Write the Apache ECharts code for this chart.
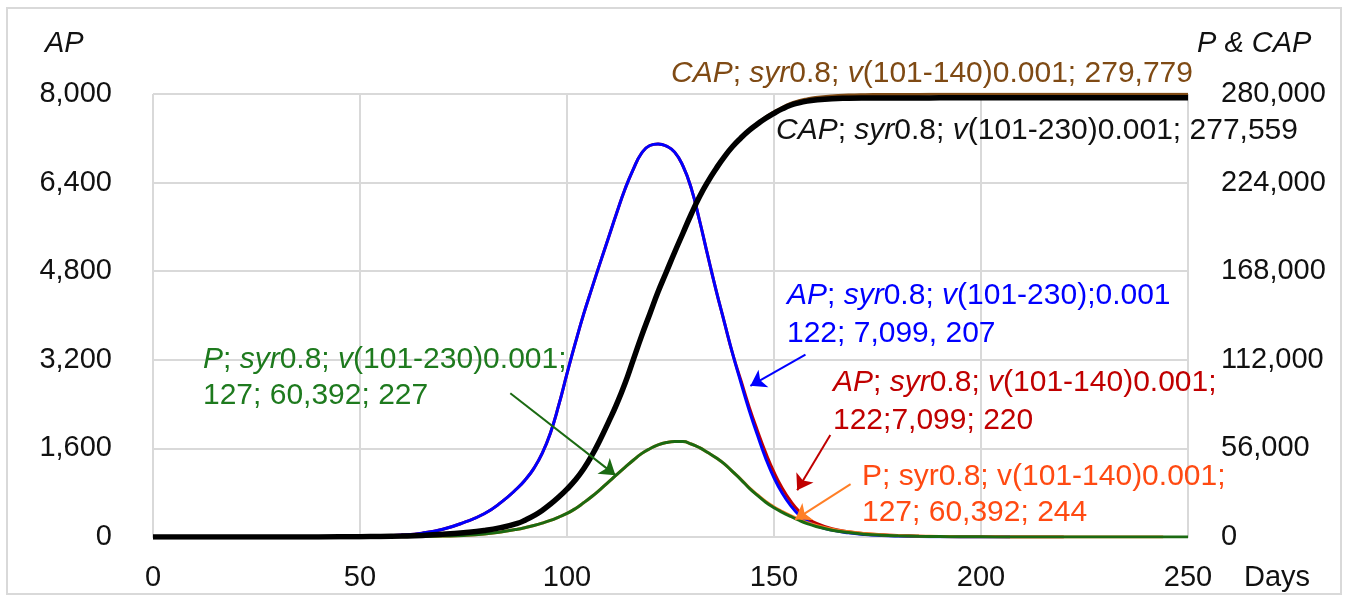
<!DOCTYPE html>
<html>
<head>
<meta charset="utf-8">
<script src="https://cdn.jsdelivr.net/npm/echarts@6/dist/echarts.min.js"></script>
<style>
html,body{margin:0;padding:0;background:#fff;}
#chart{width:1345px;height:598px;}
</style>
</head>
<body>
<div id="chart"></div>
<script>
// ---- data ----
const days = [0,10,20,30,40,50,55,60,65,70,75,80,84,88,90,92,94,96,98,100,102,104,106,108,110,112,114,116,118,120,122,124,126,128,130,132,134,136,138,140,142,144,146,148,150,152,154,156,158,160,164,168,172,176,180,185,190,195,200,207,210,220,230,240,244,250];

// AP (left axis)
const apV230 = [0,0,0,1,3,10,18,35,70,140,260,420,620,880,1040,1240,1510,1880,2380,2950,3500,4020,4490,4950,5400,5850,6280,6640,6930,7070,7099,7060,6950,6700,6300,5720,5080,4460,3880,3310,2790,2290,1840,1420,1070,790,570,400,285,205,125,75,45,27,16,8,4,2,1,0,null,null,null,null,null,null];
const apV140 = [0,0,0,1,3,10,18,35,70,140,260,420,620,880,1040,1240,1510,1880,2380,2950,3500,4020,4490,4950,5400,5850,6280,6640,6930,7070,7099,7060,6950,6700,6300,5720,5080,4460,3880,3310,2830,2350,1920,1520,1170,880,650,470,345,255,150,95,60,40,26,15,9,5,3,2,1,0,null,null,null,null];

// P (right axis)
const pV230 = [0,0,0,0,10,50,100,200,350,600,1000,1900,3200,4900,6000,7300,8800,10500,12600,14900,17900,21600,25600,30000,34700,39400,44000,48500,52700,55800,58200,59700,60350,60300,58800,56500,53400,50100,46200,41300,36300,30900,26300,22000,18500,15600,13000,10600,8500,6800,4300,2800,1800,1150,750,420,240,140,80,40,30,12,5,2,1,1];
const pV140 = [0,0,0,0,10,50,100,200,350,600,1000,1900,3200,4900,6000,7300,8800,10500,12600,14900,17900,21600,25600,30000,34700,39400,44000,48500,52700,55800,58200,59700,60350,60300,58800,56500,53400,50100,46200,41300,36500,31200,26700,22500,19000,16100,13500,11200,9100,7400,4900,3300,2200,1450,950,560,330,200,120,60,45,20,8,3,2,null];

// CAP (right axis)
const capV230 = [0,0,0,10,50,200,350,600,1000,1700,2700,4100,5900,8600,10800,13500,16800,20800,25300,30300,36000,43000,51500,61500,72500,84000,97000,112000,127000,141000,155000,167500,180000,192000,204000,215000,224500,232800,240300,246800,252200,257000,261000,264700,267800,270600,272900,274400,275500,276200,277000,277300,277450,277500,277530,277545,277552,277556,277558,277559,277559,277559,277559,277559,277559,277559];
const capV140 = [0,0,0,10,50,200,350,600,1000,1700,2700,4100,5900,8600,10800,13500,16800,20800,25300,30300,36000,43000,51500,61500,72500,84000,97000,112000,127000,141000,155000,167500,180000,192000,204000,215000,224500,232800,240300,246800,252300,257300,261500,265400,268700,271600,274000,275700,276900,277800,278800,279300,279550,279670,279730,279760,279770,279775,279777,279778,279779,279779,279779,279779,279779,279779];

const xTicks = {min:0, max:250, interval:50};
const apTicks = {min:0, max:8000, interval:1600};
const capTicks = {min:0, max:280000, interval:56000};

// ---- styling ----
const FONT = '"Liberation Sans", Arial, sans-serif';
const GRID = '#D9D9D9';
const C = {blue:'#0000FF', red:'#C00000', green:'#1B6A12', orange:'#FF7F27', brown:'#7F4A14', black:'#000000',
           greenText:'#1E7A1E', orangeText:'#FF4A12', redText:'#C00000'};

function pairs(arr){ return days.map((d,i)=>[d, arr[i]]); }
function fmt(v){ return Number(v).toLocaleString('en-US'); }

function txt(x, y, s, color, size){
  size = size || 30;
  return {type:'text', x:x, y:y, silent:true, z:100,
    style:{text:s, fill:color, fontSize:size, fontFamily:FONT,
      verticalAlign:'middle', textVerticalAlign:'middle', align:'left', textAlign:'left',
      rich:{i:{fontStyle:'italic', fill:color, fontSize:size, fontFamily:FONT}}}};
}

function arrow(from, to, color){
  return {silent:true, symbol:['none','arrow'], symbolSize:15, animation:false,
    label:{show:false}, emphasis:{disabled:true},
    lineStyle:{color:color, width:2, type:'solid'},
    data:[[{coord:from},{coord:to}]]};
}

function line(name, arr, color, width, yIdx, extra){
  return Object.assign({name:name, type:'line', yAxisIndex:yIdx, data:pairs(arr),
    showSymbol:false, symbol:'none', smooth:0.5, connectNulls:false,
    lineStyle:{color:color, width:width}, itemStyle:{color:color}, emphasis:{disabled:true}, animation:false}, extra||{});
}

const chart = echarts.init(document.getElementById('chart'), null, {renderer:'canvas'});
chart.setOption({
  backgroundColor:'#ffffff',
  animation:false,
  grid:{left:153, right:157, top:94, bottom:61, containLabel:false},
  xAxis:{type:'value', min:xTicks.min, max:xTicks.max, interval:xTicks.interval,
    axisLine:{show:true, lineStyle:{color:GRID, width:2}}, axisTick:{show:false},
    splitLine:{show:true, lineStyle:{color:GRID, width:2}},
    axisLabel:{color:'#111', fontSize:29, fontFamily:FONT, margin:26}},
  yAxis:[
    {type:'value', min:apTicks.min, max:apTicks.max, interval:apTicks.interval, position:'left',
      axisLine:{show:false}, axisTick:{show:false},
      splitLine:{show:true, lineStyle:{color:GRID, width:2}},
      axisLabel:{color:'#111', fontSize:29, fontFamily:FONT, margin:41, formatter:fmt}},
    {type:'value', min:capTicks.min, max:capTicks.max, interval:capTicks.interval, position:'right',
      axisLine:{show:false}, axisTick:{show:false}, splitLine:{show:false},
      axisLabel:{color:'#111', fontSize:29, fontFamily:FONT, margin:33, formatter:fmt}}
  ],
  series:[
    line('AP; syr0.8; v(101-140)0.001', apV140, C.red, 3, 0, {markLine:arrow([163.6,1842],[155.6,846], C.red)}),
    line('AP; syr0.8; v(101-230);0.001', apV230, C.blue, 3, 0, {markLine:arrow([157.6,3292],[144.3,2730], C.blue)}),
    line('P; syr0.8; v(101-140)0.001', pV140, C.orange, 3, 1, {markLine:arrow([168.5,33400],[155.1,11030], C.orange)}),
    line('P; syr0.8; v(101-230)0.001', pV230, C.green, 3, 1, {markLine:arrow([86.3,90900],[111.7,39100], C.green)}),
    line('CAP; syr0.8; v(101-140)0.001', capV140, C.brown, 3, 1),
    line('CAP; syr0.8; v(101-230)0.001', capV230, C.black, 5.5, 1)
  ],
  graphic:[
    {type:'rect', silent:true, shape:{x:7, y:8, width:1334, height:586}, style:{fill:'none', stroke:GRID, lineWidth:2}},
    txt(45, 44, '{i|AP}', '#111', 29),
    txt(1197, 44, '{i|P & CAP}', '#111', 29),
    txt(1244, 578, 'Days', '#111', 29),
    txt(671, 74, '{i|CAP}; {i|syr}0.8; {i|v}(101-140)0.001; 279,779', C.brown),
    txt(776, 131, '{i|CAP}; {i|syr}0.8; {i|v}(101-230)0.001; 277,559', '#111'),
    txt(787, 296, '{i|AP}; {i|syr}0.8; {i|v}(101-230);0.001', C.blue),
    txt(787, 334, '122; 7,099, 207', C.blue),
    txt(833, 383, '{i|AP}; {i|syr}0.8; {i|v}(101-140)0.001;', C.redText),
    txt(833, 421, '122;7,099; 220', C.redText),
    txt(862, 477, 'P; syr0.8; v(101-140)0.001;', C.orangeText),
    txt(862, 513, '127; 60,392; 244', C.orangeText),
    txt(203, 360, '{i|P}; {i|syr}0.8; {i|v}(101-230)0.001;', C.greenText),
    txt(203, 396, '127; 60,392; 227', C.greenText)
  ]
});
</script>
</body>
</html>
